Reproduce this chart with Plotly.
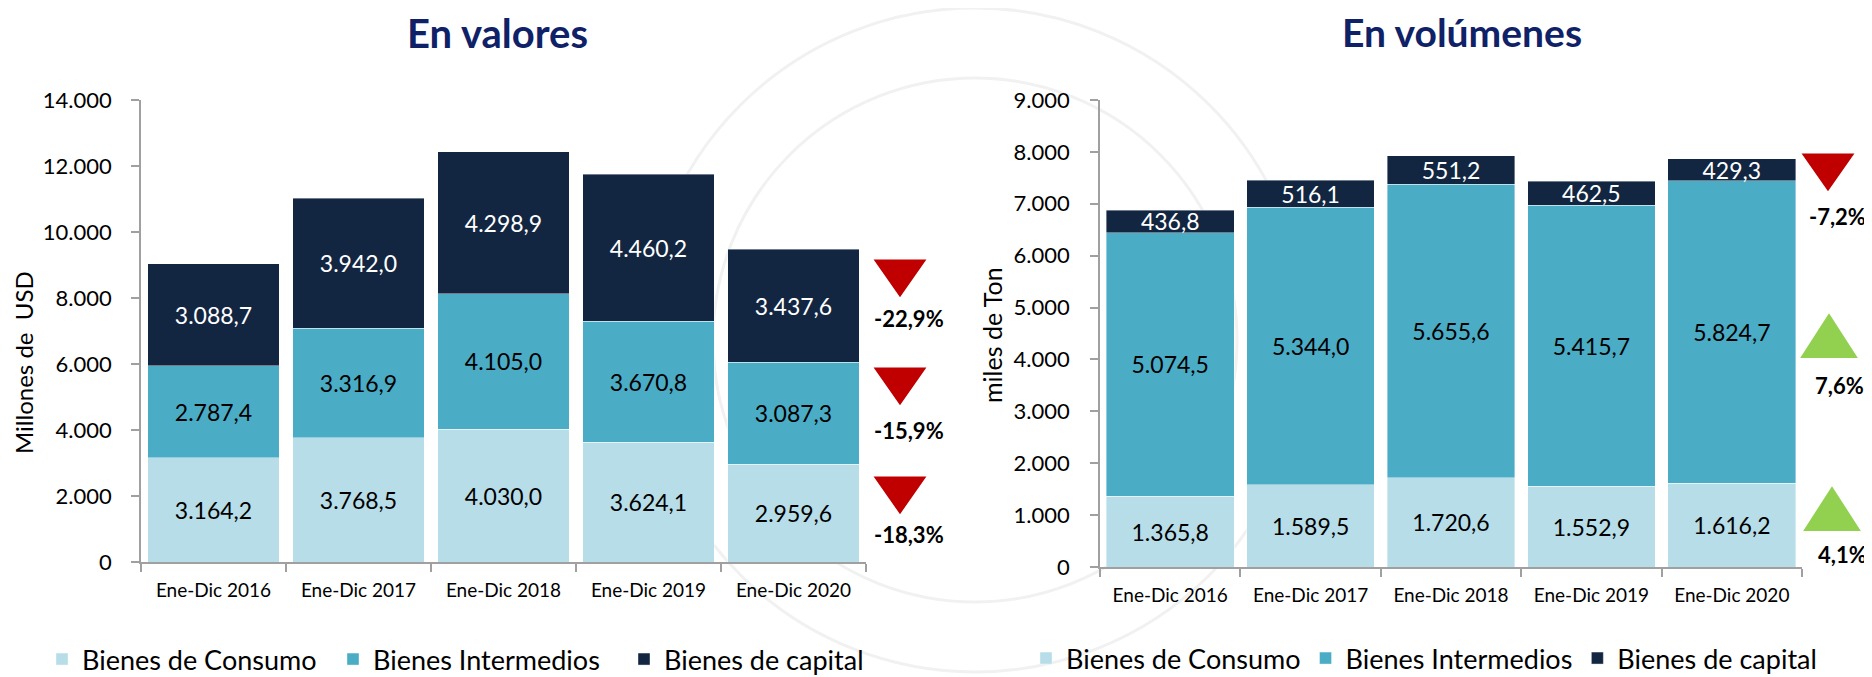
import plotly.graph_objects as go

# ---------------- data ----------------
categories = ["Ene-Dic 2016", "Ene-Dic 2017", "Ene-Dic 2018", "Ene-Dic 2019", "Ene-Dic 2020"]
series_names = ["Bienes de Consumo", "Bienes Intermedios", "Bienes de capital"]

val_consumo = [3164.2, 3768.5, 4030.0, 3624.1, 2959.6]
val_intermedios = [2787.4, 3316.9, 4105.0, 3670.8, 3087.3]
val_capital = [3088.7, 3942.0, 4298.9, 4460.2, 3437.6]

vol_consumo = [1365.8, 1589.5, 1720.6, 1552.9, 1616.2]
vol_intermedios = [5074.5, 5344.0, 5655.6, 5415.7, 5824.7]
vol_capital = [436.8, 516.1, 551.2, 462.5, 429.3]

# variation 2020 vs 2019 (consumo, intermedios, capital)
var_valores = [-18.3, -15.9, -22.9]
var_volumenes = [4.1, 7.6, -7.2]

# ---------------- style / layout ----------------
FONT = "Lato"
PAGE_W, PAGE_H = 1872, 677
OFF = 8                      # default page body margin
W, H = PAGE_W - OFF, PAGE_H - OFF
COLORS = ["#B7DDE8", "#4BACC6", "#132641"]
TEXT_COLORS = ["#000000", "#000000", "#FFFFFF"]
TITLE_COLOR = "#0F2167"
AXIS_COLOR = "#A0A0A0"
RED, GREEN = "#C00000", "#92D050"
SEAL = "#F1F1F1"

# indicator placement in page pixels (consumo, intermedios, capital)
ind_left_tri = [(900, 495), (900, 386), (900, 278)]
ind_left_lab = [(909, 534), (909, 430), (909, 318)]
ind_right_tri = [(1832, 509), (1829, 336), (1828, 172)]
ind_right_lab = [(1842, 554), (1839, 385), (1837, 217)]


def fmt(v):
    s = f"{v:,.1f}"
    return s.replace(",", "X").replace(".", ",").replace("X", ".")


def fmt_pct(p):
    return f"{p:.1f}%".replace(".", ",")


def px_x(px):
    return (px - OFF) / W


def px_y(py):
    return 1 - (py - OFF) / H


def tri_path(cx, cy, up):
    w, h = (54, 42) if up else (49, 35)
    if up:
        pts = [(cx - w / 2, cy + h / 2), (cx + w / 2, cy + h / 2), (cx, cy - h / 2)]
    else:
        pts = [(cx - w / 2, cy - h / 2), (cx + w / 2, cy - h / 2), (cx, cy + h / 2)]
    return "M " + " L ".join(f"{px_x(x):.5f},{px_y(y):.5f}" for x, y in pts) + " Z"


fig = go.Figure()

panels = [
    (dict(x="x", y="y", legend="legend"), [val_consumo, val_intermedios, val_capital]),
    (dict(x="x2", y="y2", legend="legend2"), [vol_consumo, vol_intermedios, vol_capital]),
]

for ax, series in panels:
    for name, vals, col, tcol in zip(series_names, series, COLORS, TEXT_COLORS):
        fig.add_trace(go.Bar(
            x=categories, y=vals, name=name,
            marker=dict(color=col, line=dict(color="rgba(255,255,255,0.5)", width=0.8)),
            text=[fmt(v) for v in vals], textposition="inside", insidetextanchor="middle",
            textangle=0, constraintext="none",
            textfont=dict(family=FONT, size=23, color=tcol),
            xaxis=ax["x"], yaxis=ax["y"], legend=ax["legend"], hoverinfo="skip",
        ))

# faint background seal
shapes = []
for r in (332, 262):
    cx, cy = 975, 340
    shapes.append(dict(type="circle", xref="paper", yref="paper",
                       x0=px_x(cx - r), x1=px_x(cx + r), y0=px_y(cy + r), y1=px_y(cy - r),
                       line=dict(color=SEAL, width=3), layer="below"))

annotations = []
for var, tris, labs in [(var_valores, ind_left_tri, ind_left_lab),
                        (var_volumenes, ind_right_tri, ind_right_lab)]:
    for p, (tx, ty), (lx, ly) in zip(var, tris, labs):
        up = p > 0
        col = GREEN if up else RED
        shapes.append(dict(type="path", xref="paper", yref="paper", path=tri_path(tx, ty, up),
                           fillcolor=col, line=dict(width=2, color=col), layer="above"))
        annotations.append(dict(text=f"<b>{fmt_pct(p)}</b>", x=px_x(lx), y=px_y(ly),
                                xref="paper", yref="paper", xanchor="center", yanchor="middle",
                                showarrow=False, font=dict(family=FONT, size=22, color="#000000")))

annotations += [
    dict(text="<b>En valores</b>", x=px_x(498), y=px_y(33), xref="paper", yref="paper",
         xanchor="center", yanchor="middle", showarrow=False,
         font=dict(family=FONT, size=40, color=TITLE_COLOR)),
    dict(text="<b>En volúmenes</b>", x=px_x(1462), y=px_y(32), xref="paper", yref="paper",
         xanchor="center", yanchor="middle", showarrow=False,
         font=dict(family=FONT, size=39, color=TITLE_COLOR)),
    dict(text="Millones de\u00a0 USD", x=px_x(23), y=px_y(363), xref="paper", yref="paper",
         xanchor="center", yanchor="middle", textangle=-90, showarrow=False,
         font=dict(family=FONT, size=24, color="#000000")),
    dict(text="miles de Ton", x=px_x(992), y=px_y(335), xref="paper", yref="paper",
         xanchor="center", yanchor="middle", textangle=-90, showarrow=False,
         font=dict(family=FONT, size=25, color="#000000")),
]

common_x = dict(
    type="category", showline=True, linecolor=AXIS_COLOR, linewidth=1.5,
    ticks="outside", tickson="boundaries", ticklen=8, tickcolor=AXIS_COLOR, tickwidth=1.5,
    tickfont=dict(family=FONT, size=19, color="#000000"), ticklabelstandoff=10,
    showgrid=False, zeroline=False, fixedrange=True, automargin=False,
)
common_y = dict(
    showline=True, linecolor=AXIS_COLOR, linewidth=1.5,
    ticks="outside", ticklen=8, tickcolor=AXIS_COLOR, tickwidth=1.5,
    tickfont=dict(family=FONT, size=22, color="#000000"), tickformat=",",
    showgrid=False, zeroline=False, fixedrange=True, automargin=False,
)

legend_common = dict(orientation="h", xanchor="left", yanchor="bottom",
                     font=dict(family=FONT, size=27, color="#000000"),
                     bgcolor="rgba(0,0,0,0)", traceorder="normal")

fig.update_layout(
    width=W, height=H,
    margin=dict(l=0, r=0, t=0, b=0, autoexpand=False),
    paper_bgcolor="white", plot_bgcolor="rgba(0,0,0,0)",
    barmode="stack", bargap=0.09,
    separators=",.",
    hovermode=False,
    font=dict(family=FONT, color="#000000"),
    xaxis=dict(domain=[px_x(141), px_x(866)], anchor="y", **common_x),
    yaxis=dict(domain=[px_y(562), px_y(100)], anchor="x", range=[0, 14000], dtick=2000,
               ticklabelstandoff=15, **common_y),
    xaxis2=dict(domain=[px_x(1100), px_x(1802)], anchor="y2", **common_x),
    yaxis2=dict(domain=[px_y(567), px_y(100)], anchor="x2", range=[0, 9000], dtick=1000,
                ticklabelstandoff=16, **common_y),
    legend=dict(x=px_x(42), y=-7 / H, entrywidth=246, **legend_common),
    legend2=dict(x=px_x(1026), y=-6 / H, **legend_common),
    shapes=shapes,
    annotations=annotations,
)

fig.write_html("out.html")
